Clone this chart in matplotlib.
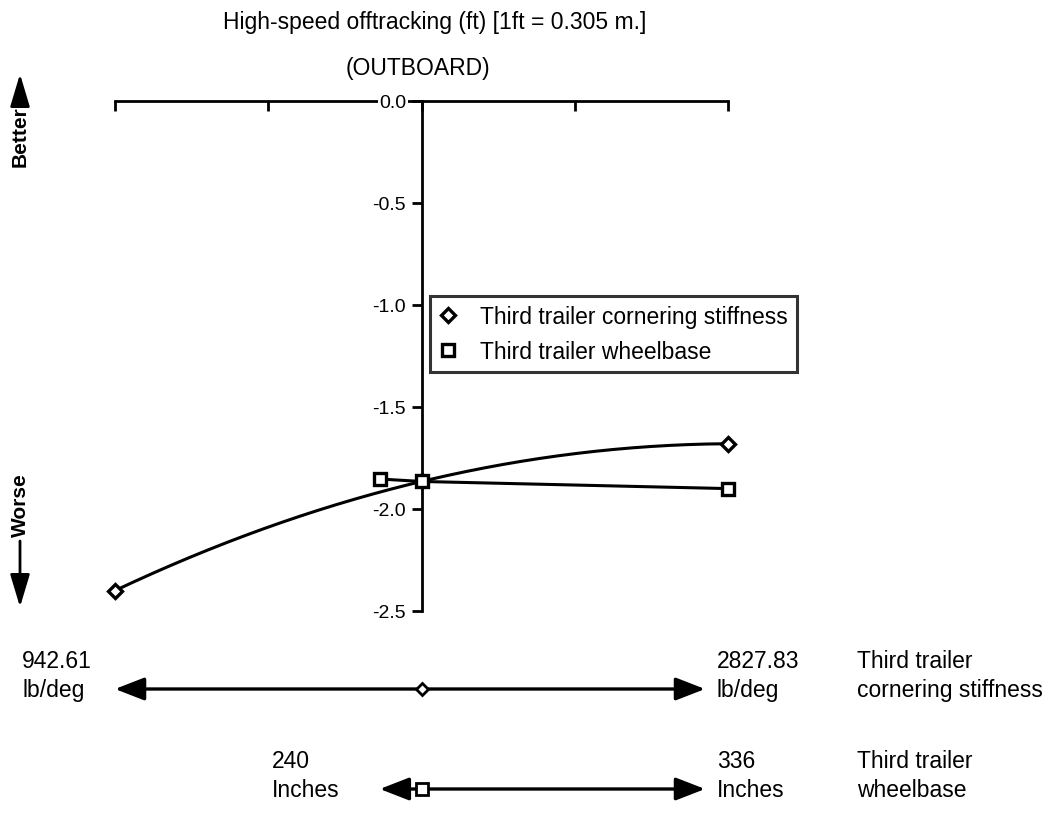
"""Sensitivity chart: high-speed offtracking vs third trailer parameters."""

import matplotlib.pyplot as plt
from matplotlib.patches import FancyArrowPatch
import numpy as np

plt.rcParams["font.family"] = ["Liberation Sans", "DejaVu Sans"]

# normalised parameter position (-1 = low end, 0 = nominal, 1 = high end)
STIFF_X = [-1.0, 0.0, 1.0]
STIFF_Y = [-2.40, -1.865, -1.68]
WB_X = [-0.136, 0.0, 1.0]
WB_Y = [-1.853, -1.865, -1.90]

Y_TICKS = [0.0, -0.5, -1.0, -1.5, -2.0, -2.5]
TOP_TICKS = [-1.0, -0.5, 0.0, 0.5, 1.0]

STIFF_RANGE = ("942.61\nlb/deg", "2827.83\nlb/deg")
WB_RANGE = ("240\nInches", "336\nInches")

W, H = 1061, 837
FS = 16.5


def fig_y(px):
    return 1 - px / H


fig = plt.figure(figsize=(W / 100, H / 100), dpi=100)
ax = fig.add_axes([115 / W, fig_y(612), (728 - 115) / W, (612 - 102) / H])

# smooth curve through the three stiffness points (quadratic fit)
coef = np.polyfit(STIFF_X, STIFF_Y, 2)
xs = np.linspace(-1, 1, 200)
ax.plot(xs, np.polyval(coef, xs), color="black", lw=2.2, zorder=3, clip_on=False)
ax.plot(STIFF_X, STIFF_Y, ls="none", marker="D", ms=7, mfc="white",
        mec="black", mew=2.4, zorder=4, clip_on=False,
        label="Third trailer cornering stiffness")
ax.plot(WB_X, WB_Y, color="black", lw=2.2, marker="s", ms=9, mfc="white",
        mec="black", mew=2.4, zorder=4, clip_on=False)
ax.plot([], [], ls="none", marker="s", ms=8, mfc="white", mec="black",
        mew=2.4, label="Third trailer wheelbase")

ax.set_xlim(-1, 1)
ax.set_ylim(-2.5, 0)
ax.spines["left"].set_position(("data", 0))
ax.spines["right"].set_visible(False)
ax.spines["bottom"].set_visible(False)
for s in ("left", "top"):
    ax.spines[s].set_linewidth(2)
ax.xaxis.set_ticks_position("top")
ax.set_xticks(TOP_TICKS)
ax.tick_params(axis="x", direction="in", length=7, width=2, labeltop=False)
ax.set_yticks(Y_TICKS)
ax.set_yticklabels([f"{v:.1f}" for v in Y_TICKS])
ax.tick_params(axis="y", direction="out", length=7, width=2, labelsize=14, pad=4)
for lab in ax.get_yticklabels():
    lab.set_bbox(dict(facecolor="white", edgecolor="none", pad=1))
ax.yaxis.set_zorder(3)
ax.patch.set_visible(False)

handles, labels = ax.get_legend_handles_labels()
leg = fig.legend(handles, labels, loc="upper left",
                 bbox_to_anchor=(430 / W, fig_y(297)), fontsize=FS,
                 frameon=True, fancybox=False, shadow=False,
                 handletextpad=1.0, borderpad=0.4, labelspacing=0.5,
                 handlelength=0.8, borderaxespad=0)
leg.get_frame().set_edgecolor("black")
leg.get_frame().set_linewidth(2.2)

fig.text(435 / W, fig_y(22), "High-speed offtracking (ft) [1ft = 0.305 m.]",
         ha="center", va="center", fontsize=FS)
fig.text(418 / W, fig_y(68), "(OUTBOARD)", ha="center", va="center", fontsize=FS)

# better / worse arrows on the left
fig.text(20 / W, fig_y(137), "Better", rotation=90, ha="center", va="center",
         fontsize=15, fontweight="bold")
fig.text(20 / W, fig_y(505), "Worse", rotation=90, ha="center", va="center",
         fontsize=15, fontweight="bold")
arrow = dict(arrowstyle="-|>,head_length=1.0,head_width=0.3", color="black", lw=2,
             mutation_scale=20, transform=fig.transFigure, shrinkA=0, shrinkB=0)
fig.add_artist(FancyArrowPatch((20 / W, fig_y(103)), (20 / W, fig_y(75)), **arrow))
fig.add_artist(FancyArrowPatch((20 / W, fig_y(542)), (20 / W, fig_y(608)), **arrow))

# parameter range arrows below the plot
trans = ax.get_xaxis_transform()
pos = ax.get_position()
rows = [
    (STIFF_X[0], 0.925, 690, "Third trailer\ncornering stiffness", "D", 6),
    (WB_X[0], 0.925, 790, "Third trailer\nwheelbase", "s", 8),
]
for lo, hi, y_px, name, mk, ms in rows:
    y_ax = (fig_y(y_px) - pos.y0) / pos.height
    for end in (lo, hi):
        ax.annotate("", xy=(end, y_ax), xytext=(0, y_ax), xycoords=trans,
                    textcoords=trans, annotation_clip=False,
                    arrowprops=dict(arrowstyle="-|>,head_length=0.9,head_width=0.35",
                                    color="black", lw=2.4, mutation_scale=20,
                                    shrinkA=0, shrinkB=0))
    ax.plot([0], [y_ax], transform=trans, marker=mk, ms=ms, mfc="white",
            mec="black", mew=2, clip_on=False, zorder=5)
    fig.text(857 / W, fig_y(y_px - 14), name, ha="left", va="center",
             fontsize=FS, linespacing=1.3)

fig.text(22 / W, fig_y(676), STIFF_RANGE[0], ha="left", va="center",
         fontsize=FS, linespacing=1.3)
fig.text(717 / W, fig_y(676), STIFF_RANGE[1], ha="left", va="center",
         fontsize=FS, linespacing=1.3)
fig.text(272 / W, fig_y(776), WB_RANGE[0], ha="left", va="center",
         fontsize=FS, linespacing=1.3)
fig.text(717 / W, fig_y(776), WB_RANGE[1], ha="left", va="center",
         fontsize=FS, linespacing=1.3)

fig.savefig("out.png", dpi=100)
